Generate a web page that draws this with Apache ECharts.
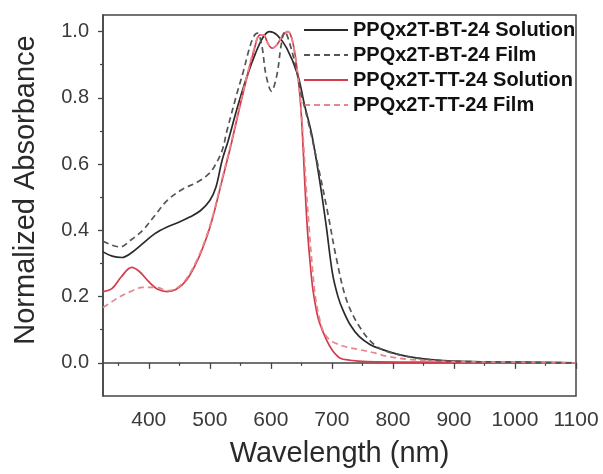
<!DOCTYPE html>
<html>
<head>
<meta charset="utf-8">
<script src="https://cdn.jsdelivr.net/npm/echarts@6/dist/echarts.min.js"></script>
<style>
html,body{margin:0;padding:0;background:#fff;}
#chart{width:603px;height:474px;}
</style>
</head>
<body>
<div id="chart"></div>
<script>
// ---- data (wavelength nm, normalized absorbance) ----
const seriesNames = ['PPQx2T-BT-24 Solution','PPQx2T-BT-24 Film','PPQx2T-TT-24 Solution','PPQx2T-TT-24 Film'];
const btSolution = [[325,0.335],[340,0.322],[356,0.318],[370,0.33],[390,0.36],[410,0.39],[430,0.41],[450,0.425],[467,0.44],[485,0.46],[500,0.49],[510,0.53],[520,0.61],[530,0.67],[545,0.77],[560,0.86],[575,0.935],[588,0.985],[598,1.0],[610,0.99],[626,0.95],[644,0.87],[655,0.78],[667,0.69],[680,0.55],[691,0.41],[701,0.27],[710,0.2],[718,0.16],[730,0.115],[745,0.079],[763,0.055],[783,0.04],[810,0.025],[838,0.015],[870,0.008],[900,0.005],[950,0.003],[1000,0.002],[1100,0.0]];
const btFilm = [[325,0.367],[340,0.355],[353,0.35],[370,0.37],[390,0.40],[410,0.445],[430,0.49],[456,0.525],[479,0.545],[495,0.565],[505,0.585],[520,0.64],[528,0.7],[544,0.81],[555,0.88],[565,0.95],[572,0.985],[578,0.995],[585,0.96],[592,0.87],[601,0.82],[610,0.87],[617,0.96],[623,1.0],[630,0.97],[640,0.9],[650,0.81],[659,0.745],[675,0.615],[693,0.455],[708,0.31],[724,0.19],[745,0.11],[773,0.05],[811,0.024],[865,0.009],[920,0.004],[1000,0.002],[1100,0.0]];
const ttSolution = [[325,0.215],[340,0.225],[355,0.26],[372,0.288],[385,0.275],[400,0.245],[415,0.222],[430,0.215],[445,0.222],[462,0.25],[480,0.31],[495,0.38],[505,0.44],[520,0.55],[535,0.66],[550,0.78],[562,0.87],[572,0.94],[582,0.99],[588,0.99],[595,0.965],[602,0.95],[610,0.96],[620,0.99],[628,1.0],[635,0.975],[642,0.9],[648,0.8],[652,0.68],[656,0.53],[660,0.4],[665,0.29],[669,0.22],[675,0.155],[680,0.12],[691,0.07],[700,0.04],[713,0.015],[730,0.008],[757,0.004],[850,0.002],[1100,0.0]];
const ttFilm = [[325,0.167],[340,0.185],[353,0.2],[370,0.215],[390,0.228],[413,0.228],[430,0.218],[445,0.225],[462,0.255],[480,0.315],[495,0.385],[505,0.445],[520,0.555],[535,0.665],[550,0.785],[562,0.875],[572,0.945],[582,0.99],[588,0.99],[595,0.965],[602,0.95],[610,0.96],[620,0.99],[628,1.0],[635,0.975],[642,0.9],[648,0.8],[653,0.68],[658,0.53],[663,0.4],[668,0.29],[673,0.2],[679,0.14],[685,0.1],[692,0.078],[701,0.064],[720,0.05],[745,0.04],[770,0.03],[790,0.02],[830,0.01],[900,0.004],[1000,0.002],[1100,0.0]];
const xTickLabels = [400,500,600,700,800,900,1000,1100];
const xMinorTicks = [350,450,550,650,750,850,950,1050];
const yTickLabels = [0.0,0.2,0.4,0.6,0.8,1.0];
const yMinorTicks = [0.1,0.3,0.5,0.7,0.9];

const chart = echarts.init(document.getElementById('chart'), null, {renderer:'canvas'});
const axisColor = '#3a3a3a';
const font = 'Liberation Sans, Arial, sans-serif';
const colors = ['#2a2a2a','#555555','#d23c4c','#e8868c'];
const datasets = [btSolution, btFilm, ttSolution, ttFilm];
const types = ['solid','dashed','solid','dashed'];

chart.setOption({
  animation:false,
  backgroundColor:'#fff',
  grid:{left:103,right:27,top:15,bottom:78,show:true,borderColor:'#444',borderWidth:1.5,backgroundColor:'transparent'},
  legend:{
    show:true, orient:'vertical', left:303, top:20, padding:0, itemWidth:44, itemHeight:12, itemGap:5,
    itemStyle:{opacity:0},
    textStyle:{fontFamily:font,fontWeight:'bold',fontSize:20,color:'#111',lineHeight:20},
    data:seriesNames
  },
  xAxis:[{
    type:'value', min:325, max:1100, position:'bottom',
    name:'Wavelength (nm)', nameLocation:'middle', nameGap:43,
    nameTextStyle:{fontFamily:font,fontSize:29,color:'#2a2a2a'},
    axisLine:{show:true,lineStyle:{color:'#444',width:1.5}},
    axisTick:{show:true,inside:false,length:6,customValues:xTickLabels,lineStyle:{color:'#444',width:1.3}},
    axisLabel:{customValues:xTickLabels,margin:14,fontFamily:font,fontSize:21,color:axisColor,formatter:v=>String(Math.round(v))},
    splitLine:{show:false}
  },{
    type:'value', min:325, max:1100, position:'bottom', gridIndex:0,
    axisLine:{show:false},
    axisTick:{show:true,inside:false,length:3,customValues:xMinorTicks,lineStyle:{color:'#444',width:1.2}},
    axisLabel:{show:false}, splitLine:{show:false}
  }],
  yAxis:[{
    type:'value', min:-0.1, max:1.05, position:'left',
    axisLine:{show:true,lineStyle:{color:'#444',width:1.5}},
    axisTick:{show:true,inside:false,length:5,customValues:yTickLabels,lineStyle:{color:'#444',width:1.3}},
    axisLabel:{customValues:yTickLabels,margin:14,fontFamily:font,fontSize:20,color:axisColor,formatter:v=>v.toFixed(1)},
    splitLine:{show:false}
  },{
    type:'value', min:-0.1, max:1.05, position:'left', gridIndex:0,
    axisLine:{show:false},
    axisTick:{show:true,inside:false,length:3,customValues:yMinorTicks,lineStyle:{color:'#444',width:1.2}},
    axisLabel:{show:false}, splitLine:{show:false}
  }],
  graphic:[{
    type:'text', x:26, y:190, rotation:Math.PI/2,
    style:{text:'Normalized Absorbance',fontFamily:font,fontSize:29,fill:'#2a2a2a',align:'center',verticalAlign:'middle'}
  }],
  series:seriesNames.map((n,i)=>({
    name:n, type:'line', xAxisIndex:0, yAxisIndex:0,
    data:datasets[i], smooth:0.35, symbol:'none', showSymbol:false,
    lineStyle:{color:colors[i],width:1.7,type:types[i]==='dashed'?[6,4]:'solid'},
    itemStyle:{color:colors[i]},
    z: i===1?5:3
  }))
});
</script>
</body>
</html>
